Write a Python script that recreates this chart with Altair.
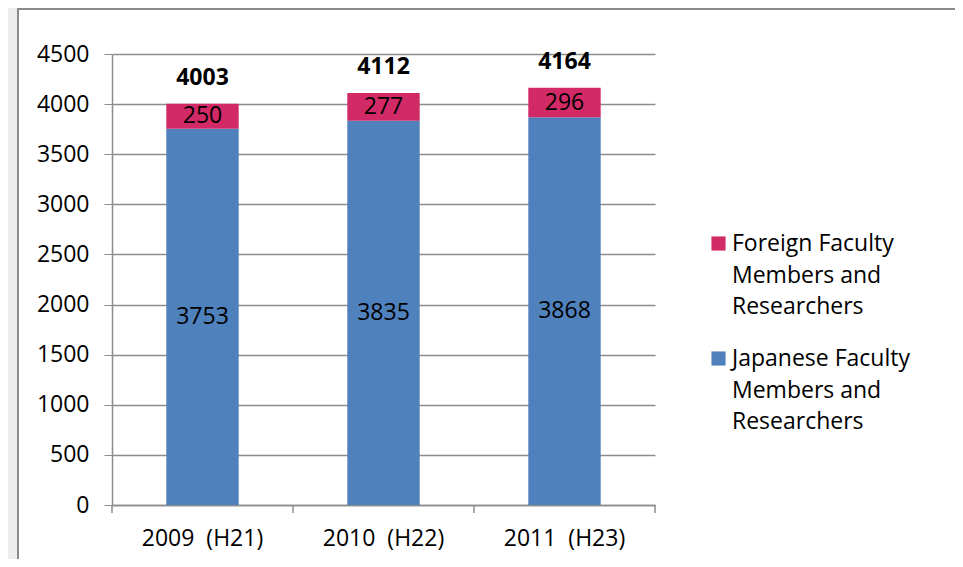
import altair as alt
import pandas as pd

years = ["2009\u00a0 (H21)", "2010\u00a0 (H22)", "2011\u00a0 (H23)"]
japanese = [3753, 3835, 3868]
foreign = [250, 277, 296]
totals = [4003, 4112, 4164]
series_foreign = "Foreign Faculty|Members and|Researchers"
series_japanese = "Japanese Faculty|Members and|Researchers"
y_ticks = [0, 500, 1000, 1500, 2000, 2500, 3000, 3500, 4000, 4500]

FONT = "Open Sans"
FS = 23
PINK = "#D12A66"
BLUE = "#4F81BD"
GRID = "#8C8C8C"
DY = 7.5

rows = []
for yr, j, f in zip(years, japanese, foreign):
    rows.append({"year": yr, "series": series_japanese, "value": j, "ord": 0})
    rows.append({"year": yr, "series": series_foreign, "value": f, "ord": 1})
df = pd.DataFrame(rows)
tot_df = pd.DataFrame({"year": years, "total": totals})
bound_df = pd.DataFrame({"b": [0, 1, 2, 3]})

W, H = 543, 451

xs = alt.X("year:N", sort=years, title=None,
           scale=alt.Scale(paddingInner=0.6, paddingOuter=0.3),
           axis=alt.Axis(labelAngle=0, labelFont=FONT, labelFontSize=FS, labelColor="#000",
                         ticks=False, domainColor=GRID, domainWidth=1.5, labelPadding=22 - DY))
ys = alt.Y("value:Q", title=None, stack="zero",
           scale=alt.Scale(domain=[0, 4500], nice=False),
           axis=alt.Axis(values=y_ticks, format="d", labelFont=FONT, labelFontSize=FS,
                         labelColor="#000", labelOffset=-DY,
                         tickSize=8, tickColor=GRID, domainColor=GRID, domainWidth=1.5,
                         gridColor=GRID, gridWidth=1.5, labelPadding=15))

bars = alt.Chart(df).mark_bar().encode(
    x=xs,
    y=ys,
    color=alt.Color("series:N",
                    scale=alt.Scale(domain=[series_foreign, series_japanese], range=[PINK, BLUE]),
                    legend=alt.Legend(title=None, orient="none", legendX=595, legendY=178,
                                      symbolType="square", symbolSize=200, symbolStrokeWidth=0,
                                      labelFont=FONT, labelFontSize=FS, labelColor="#000",
                                      labelExpr="split(datum.label, '|')", labelOffset=2,
                                      labelLimit=400, rowPadding=28, labelBaseline="alphabetic")),
    order=alt.Order("ord:Q"),
)

seg_labels = alt.Chart(df).transform_stack(
    stack="value", groupby=["year"], as_=["v0", "v1"], sort=[alt.SortField("ord")]
).transform_calculate(mid="(datum.v0 + datum.v1) / 2").mark_text(
    font=FONT, fontSize=FS, color="#000", baseline="middle"
).encode(
    x=alt.X("year:N", sort=years),
    y=alt.Y("mid:Q"),
    text=alt.Text("value:Q"),
)

tot_labels = alt.Chart(tot_df).mark_text(
    font=FONT, fontSize=FS, fontWeight="bold", color="#000", baseline="alphabetic", dy=-19
).encode(
    x=alt.X("year:N", sort=years),
    y=alt.Y("total:Q"),
    text=alt.Text("total:Q"),
)

main = alt.layer(bars, seg_labels, tot_labels)

ticks = alt.Chart(bound_df).mark_rule(color=GRID, strokeWidth=1.5).encode(
    x=alt.X("b:Q", scale=alt.Scale(domain=[0, 3], nice=False), axis=None),
    y=alt.value(H),
    y2=alt.value(H + 8),
)

frame = alt.Chart(bound_df).transform_filter("datum.b == 0").mark_rect(
    fill="transparent", stroke="#8A8A8A", strokeWidth=2, clip=False
).encode(
    x=alt.value(-94), x2=alt.value(847), y=alt.value(-45), y2=alt.value(H + 90)
)
left_strip = alt.Chart(bound_df).transform_filter("datum.b == 0").mark_rect(
    fill="#EDEDED", clip=False
).encode(
    x=alt.value(-104), x2=alt.value(-95), y=alt.value(-46), y2=alt.value(H + 90)
)

chart = alt.layer(left_strip, frame, main, ticks).resolve_scale(x="independent").properties(
    width=W, height=H,
    autosize=alt.AutoSizeParams(type="none"),
    padding={"left": 104, "top": 46, "right": 300, "bottom": 54},
).configure(style={"guide-label": {"lineHeight": 31.5, "dy": DY}}).configure_view(strokeWidth=0)

chart.save("out.html", embed_options={"renderer": "svg", "actions": False})
